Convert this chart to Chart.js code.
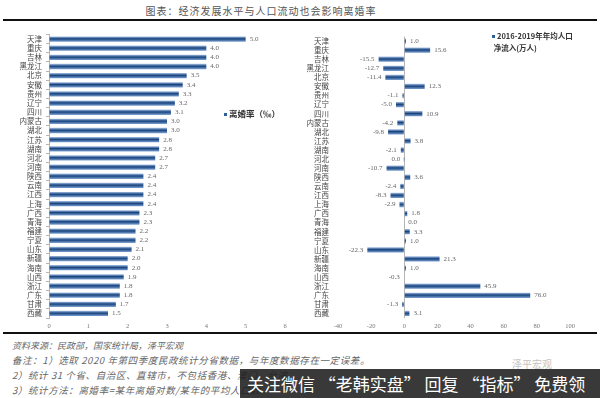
<!DOCTYPE html>
<html>
<head>
<meta charset="utf-8">
<script src="https://cdn.jsdelivr.net/npm/chart.js@4.4.1/dist/chart.umd.min.js"></script>
<style>
  body { margin: 0; width: 600px; height: 398px; background: #fff; position: relative; overflow: hidden; font-family: "Noto Sans CJK SC", sans-serif; }
  .title { position: absolute; top: 3px; left: 0; width: 522px; text-align: center; font-size: 10px; letter-spacing: 1px; color: #555; }
  .rule { position: absolute; left: 3px; width: 594px; height: 2px; background: #111; }
  .box { position: absolute; top: 26px; width: 300px; height: 306px; }
  .legend { position: absolute; font-weight: bold; color: #333; line-height: 12px; white-space: nowrap; }
  .legend i { display: inline-block; width: 3px; height: 3px; background: #2e5e9c; margin-right: 2px; vertical-align: middle; }
  .notes { position: absolute; left: 12px; top: 338px; font-size: 9.5px; letter-spacing: 0.6px; line-height: 15px; color: #666; font-style: italic; white-space: nowrap; }
  .notes span { font-size: 9px; letter-spacing: 0; }
  .wm { position: absolute; left: 240px; top: 369px; width: 360px; height: 29px; background: rgba(30,30,30,0.88); color: #fff; font-size: 17px; line-height: 29px; padding-left: 7px; box-sizing: border-box; white-space: nowrap; }
  .logo { position: absolute; left: 512px; top: 356px; font-size: 10px; color: #c4c4c4; }
</style>
</head>
<body>
<div class="title">图表：经济发展水平与人口流动也会影响离婚率</div>
<div class="rule" style="top:19px"></div>
<div class="box" style="left:0"><canvas id="rateChart"></canvas></div>
<div class="box" style="left:300px"><canvas id="flowChart"></canvas></div>
<div class="legend" style="left:224px;top:107px;font-size:8.5px"><i></i>离婚率（‰）</div>
<div class="legend" style="left:492px;top:30px;font-size:7.5px"><i></i>2016-2019年年均人口<br>&nbsp;净流入(万人)</div>
<div class="rule" style="top:332px"></div>
<div class="notes">
  <span>资料来源：民政部，国家统计局，泽平宏观</span><br>
  备注：1）选取 2020 年第四季度民政统计分省数据，与年度数据存在一定误差。<br>
  2）统计 31 个省、自治区、直辖市，不包括香港、澳门、台湾。<br>
  3）统计方法：离婚率=某年离婚对数/某年的平均人口数
</div>
<div class="logo">泽平宏观</div>
<div class="wm">关注微信 “老韩实盘” 回复 “指标” 免费领</div>

<script>
const provinces = ['天津','重庆','吉林','黑龙江','北京','安徽','贵州','辽宁','四川','内蒙古',
  '湖北','江苏','湖南','河北','河南','陕西','云南','江西','上海','广西',
  '青海','福建','宁夏','山东','新疆','海南','山西','浙江','广东','甘肃','西藏'];
// 离婚率（‰）
const divorceRate = [5.0,4.0,4.0,4.0,3.5,3.4,3.3,3.2,3.1,3.0,
  3.0,2.8,2.8,2.7,2.7,2.4,2.4,2.4,2.4,2.3,
  2.3,2.2,2.2,2.1,2.0,2.0,1.9,1.8,1.8,1.7,1.5];
// 2016-2019年年均人口净流入(万人); 河北 is a hair below zero in the picture
const netInflow = [1.0,15.6,-15.5,-12.7,-11.4,12.3,-1.1,-5.0,10.9,-4.2,
  -9.8,3.8,-2.1,-0.02,-10.7,3.6,-2.4,-8.3,-2.9,1.8,
  0.0,3.3,1.0,-22.3,21.3,1.0,-0.3,45.9,76.0,-1.3,3.1];
const rateTicks = { min: 0, max: 6, step: 1 };
const flowTicks = { min: -40, max: 100, step: 20 };

const LABEL_FONT = { family: '"Noto Sans CJK SC"', size: 7.5 };
const TICK_FONT = { family: '"Liberation Serif"', size: 6.5 };

// cylinder-like shading across each bar's thickness
function barFill(ctx) {
  const chart = ctx.chart;
  const y = chart.scales && chart.scales.y;
  if (!y || ctx.type !== 'data') return '#24528f';
  const py = y.getPixelForValue(ctx.dataIndex);
  if (!Number.isFinite(py)) return '#24528f';
  const g = chart.ctx.createLinearGradient(0, py - 2.7, 0, py + 2.7);
  g.addColorStop(0, '#a9c5e8');
  g.addColorStop(0.45, '#17427d');
  g.addColorStop(1, '#7fa5d4');
  return g;
}

const valueLabels = {
  id: 'valueLabels',
  afterDatasetsDraw(chart) {
    const ctx = chart.ctx;
    const data = chart.data.datasets[0].data;
    ctx.save();
    ctx.font = '7px "Liberation Serif"';
    ctx.fillStyle = '#666';
    ctx.textBaseline = 'middle';
    chart.getDatasetMeta(0).data.forEach((bar, i) => {
      const v = data[i];
      const neg = v < 0;
      const txt = (Math.abs(v) < 0.05 ? 0 : v).toFixed(1);
      ctx.textAlign = neg ? 'right' : 'left';
      ctx.fillText(txt, bar.x + (neg ? -4 : 4), bar.y);
    });
    ctx.restore();
  }
};

function makeChart(id, values, tk, yWidth, padRight, zeroLine) {
  const chart = new Chart(document.getElementById(id), {
    type: 'bar',
    data: {
      labels: provinces,
      datasets: [{ data: values, backgroundColor: barFill, barPercentage: 0.58, categoryPercentage: 1.0 }]
    },
    options: {
      indexAxis: 'y',
      responsive: true,
      maintainAspectRatio: false,
      animation: false,
      layout: { padding: { top: 5, right: padRight, left: 0, bottom: 0 } },
      plugins: { legend: { display: false }, tooltip: { enabled: false } },
      scales: {
        x: {
          min: tk.min, max: tk.max,
          afterFit: s => { s.height = 14; },
          border: { display: false },
          grid: {
            drawTicks: false,
            color: c => (zeroLine && c.tick && c.tick.value === 0) ? '#b5b5b5' : 'rgba(0,0,0,0)'
          },
          ticks: { stepSize: tk.step, padding: 4, color: '#777', font: TICK_FONT, maxRotation: 0 }
        },
        y: {
          afterFit: s => { s.width = yWidth; },
          border: { display: !zeroLine, color: '#b5b5b5' },
          grid: { display: !zeroLine, drawOnChartArea: false, tickLength: 3, color: '#b5b5b5' },
          ticks: { padding: zeroLine ? 6 : 4, color: '#444', font: LABEL_FONT, autoSkip: false }
        }
      }
    },
    plugins: [valueLabels]
  });
  chart.update(); // re-resolve the gradients once the scales are laid out
  return chart;
}

makeChart('rateChart', divorceRate, rateTicks, 49, 15, false);
makeChart('flowChart', netInflow, flowTicks, 38, 30, true);
</script>
</body>
</html>
